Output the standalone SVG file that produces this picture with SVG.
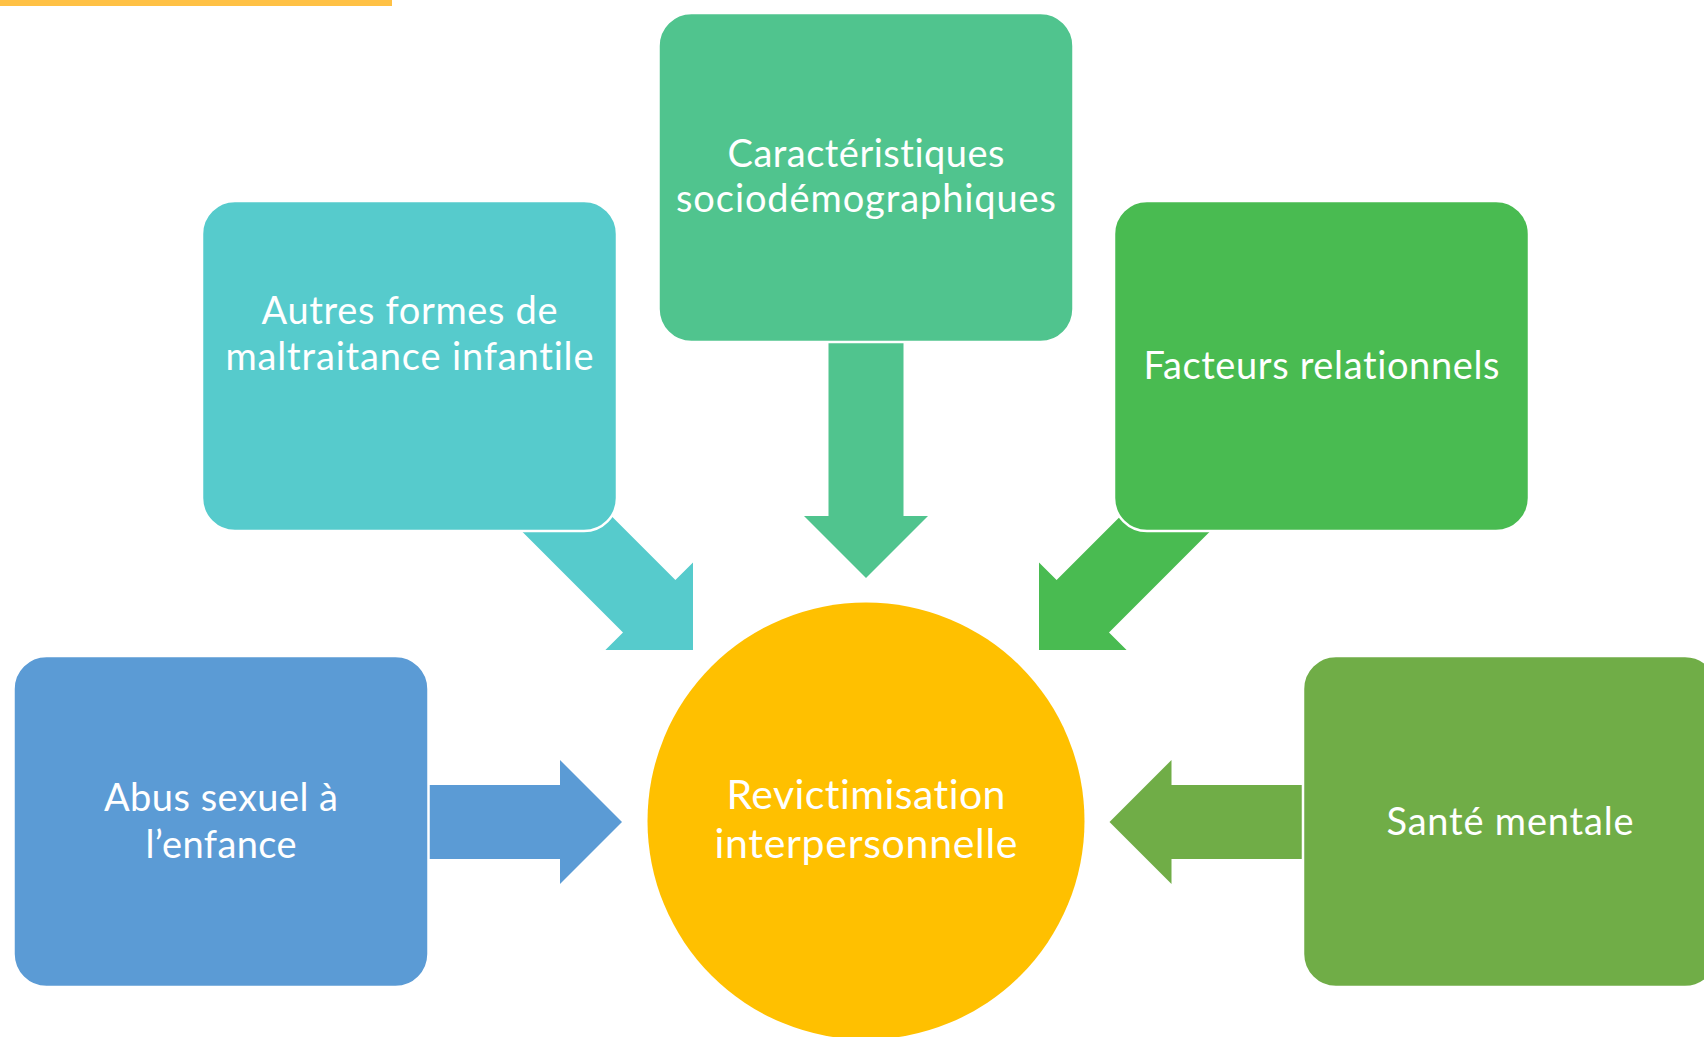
<svg xmlns="http://www.w3.org/2000/svg" width="1704" height="1037" viewBox="0 0 1704 1037">
<style>
.box{stroke:#ffffff;stroke-width:2.5}
.lbl{font-family:Lato,"Open Sans","Liberation Sans",sans-serif;font-size:38px;fill:#ffffff;text-anchor:middle;font-variant-ligatures:none;font-feature-settings:"liga" 0,"clig" 0}
.big{font-size:41px}
</style>
<rect width="1704" height="1037" fill="#ffffff"/>
<rect x="0" y="0" width="392" height="6" fill="#FFC145"/>
<g id="connectors">
<polygon fill="#50C48E" points="828.5,330 903.5,330 903.5,516 928,516 866,578 804,516 828.5,516"/>
<polygon fill="#56CBCC" points="515.3,524.7 623,632.4 605.4,650 693,650 693,562.4 675.4,580 567.7,472.3"/>
<polygon fill="#49BB51" points="1216.7,524.7 1109,632.4 1126.6,650 1039,650 1039,562.4 1056.6,580 1164.3,472.3"/>
<polygon fill="#5B9BD5" points="420,785 560,785 560,760 622,822 560,884 560,859 420,859"/>
<polygon fill="#70AD47" points="1312,785 1171.5,785 1171.5,760 1109.5,822 1171.5,884 1171.5,859 1312,859"/>
</g>
<g id="node-socio">
<rect class="box" x="658.5" y="13" width="415" height="329" rx="33" fill="#50C48E"/>
<text class="lbl" x="866" y="167" textLength="277">Caractéristiques</text>
<text class="lbl" x="866" y="212" textLength="380">sociodémographiques</text>
</g>
<g id="node-autres">
<rect class="box" x="202" y="201" width="415" height="330" rx="33" fill="#56CBCC"/>
<text class="lbl" x="409.5" y="324" textLength="296">Autres formes de</text>
<text class="lbl" x="409.5" y="370" textLength="368">maltraitance infantile</text>
</g>
<g id="node-facteurs">
<rect class="box" x="1114" y="201" width="415" height="330" rx="33" fill="#49BB51"/>
<text class="lbl" x="1321.5" y="379" textLength="356">Facteurs relationnels</text>
</g>
<g id="node-abus">
<rect class="box" x="13.5" y="656" width="415" height="331" rx="33" fill="#5B9BD5"/>
<text class="lbl" x="221" y="811" textLength="234">Abus sexuel à</text>
<text class="lbl" x="221" y="858" textLength="151">l’enfance</text>
</g>
<g id="node-sante">
<rect class="box" x="1303" y="656" width="415" height="331" rx="33" fill="#70AD47"/>
<text class="lbl" x="1510" y="835" textLength="247">Santé mentale</text>
</g>
<g id="node-revictimisation">
<circle cx="866" cy="821" r="218.5" fill="#FFC000"/>
<text class="lbl big" x="866" y="809" textLength="279">Revictimisation</text>
<text class="lbl big" x="866" y="858" textLength="303">interpersonnelle</text>
</g>
</svg>
